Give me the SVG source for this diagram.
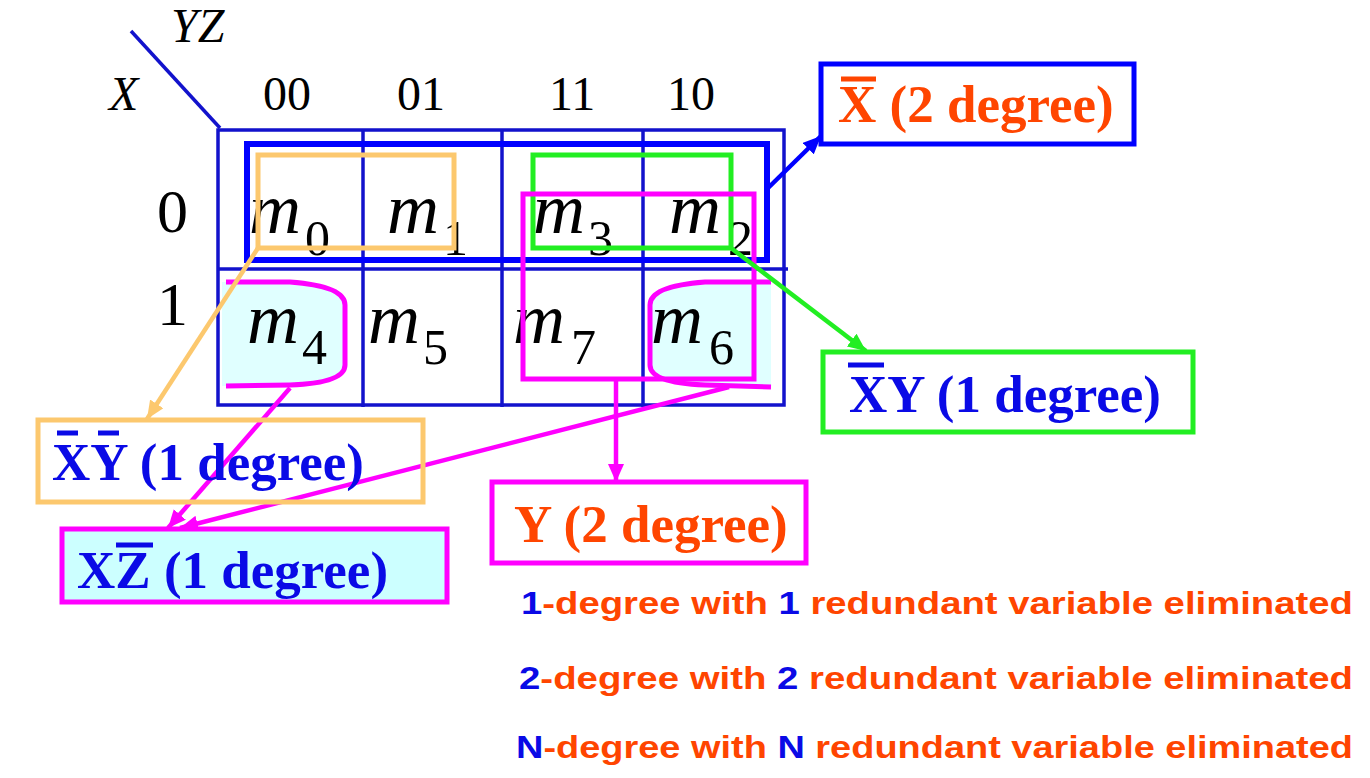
<svg xmlns="http://www.w3.org/2000/svg" width="1370" height="778" viewBox="0 0 1370 778">
<style>
.ser{font-family:"Liberation Serif","Times New Roman",serif}
.it{font-style:italic}
.m{font-family:"Liberation Serif","Times New Roman",serif;font-style:italic;font-size:72px;fill:#000}
.sub{font-family:"Liberation Serif","Times New Roman",serif;font-size:50px;fill:#000}
.hdr{font-family:"Liberation Serif","Times New Roman",serif;font-size:48px;fill:#000}
.lbl{font-family:"Liberation Serif","Times New Roman",serif;font-weight:bold;font-size:53px}
.blue{fill:#0a0ae6}
.org{fill:#ff4500}
.bar{stroke-width:5}
.grid{fill:none;stroke:#1212cc;stroke-width:3.5}
.foot{font-family:"Liberation Sans",Arial,sans-serif;font-weight:bold;font-size:32px}
.conn{fill:none;stroke-width:4.5}
</style>
<defs>
<marker id="ab" markerUnits="userSpaceOnUse" markerWidth="20" markerHeight="16" refX="18" refY="8" orient="auto"><path d="M0,0 L18,8 L0,16 z" fill="#0000ff"/></marker>
<marker id="ag" markerUnits="userSpaceOnUse" markerWidth="20" markerHeight="16" refX="18" refY="8" orient="auto"><path d="M0,0 L18,8 L0,16 z" fill="#22ee22"/></marker>
<marker id="ao" markerUnits="userSpaceOnUse" markerWidth="20" markerHeight="16" refX="18" refY="8" orient="auto"><path d="M0,0 L18,8 L0,16 z" fill="#fcc86e"/></marker>
<marker id="am" markerUnits="userSpaceOnUse" markerWidth="20" markerHeight="16" refX="18" refY="8" orient="auto"><path d="M0,0 L18,8 L0,16 z" fill="#ff00ff"/></marker>
</defs>
<rect width="1370" height="778" fill="#ffffff"/>

<g id="kmap">
<line x1="131" y1="31" x2="220" y2="128" stroke="#1212cc" stroke-width="3.5"/>
<text class="hdr it" x="171" y="42">YZ</text>
<text class="hdr it" x="109" y="110">X</text>
<text class="hdr" x="263" y="110">00</text>
<text class="hdr" x="397" y="110">01</text>
<text class="hdr" x="549" y="110">11</text>
<text class="hdr" x="667" y="110">10</text>
<text class="ser" x="157" y="232" font-size="62">0</text>
<text class="ser" x="157" y="325" font-size="62">1</text>
<path d="M222,282 L290,282 Q345,286 345,305 L345,365 Q345,383 290,385 L222,386 Z" fill="#e0ffff"/>
<path d="M771,282 L705,282 Q650,286 650,305 L650,365 Q650,383 705,385 L771,387 Z" fill="#e0ffff"/>
<text class="m" x="249" y="233">m</text><text class="sub" x="305" y="255">0</text>
<text class="m" x="387" y="233">m</text><text class="sub" x="443" y="255">1</text>
<text class="m" x="533" y="233">m</text><text class="sub" x="588" y="255">3</text>
<text class="m" x="669" y="233">m</text><text class="sub" x="728" y="255">2</text>
<text class="m" x="247" y="343">m</text><text class="sub" x="302" y="364">4</text>
<text class="m" x="368" y="343">m</text><text class="sub" x="423" y="364">5</text>
<text class="m" x="513" y="343">m</text><text class="sub" x="571" y="364">7</text>
<text class="m" x="651" y="343">m</text><text class="sub" x="709" y="364">6</text>
<rect class="grid" x="218" y="130" width="566" height="275"/>
<line class="grid" x1="218" y1="269" x2="788" y2="269"/>
<line class="grid" x1="363" y1="130" x2="363" y2="407"/>
<line class="grid" x1="502" y1="130" x2="502" y2="407"/>
<line class="grid" x1="643" y1="130" x2="643" y2="407"/>
</g>

<g id="group-xbar">
<rect x="247" y="144" width="520" height="116" fill="none" stroke="#0000ff" stroke-width="6"/>
</g>
<g id="group-m0m1">
<rect x="258" y="155" width="196" height="93" fill="none" stroke="#fcc86e" stroke-width="5"/>
</g>
<g id="group-m3m2">
<rect x="533" y="155" width="198" height="93" fill="none" stroke="#22ee22" stroke-width="5"/>
</g>
<g id="group-y">
<rect x="523" y="194" width="231" height="185" fill="none" stroke="#ff00ff" stroke-width="5"/>
</g>
<g id="group-m4">
<path d="M226,282 L290,282 Q345,286 345,305 L345,365 Q345,383 290,385 L226,386" fill="none" stroke="#ff00ff" stroke-width="5"/>
</g>
<g id="group-m6">
<path d="M771,282 L705,282 Q650,286 650,305 L650,365 Q650,383 705,385 L771,387" fill="none" stroke="#ff00ff" stroke-width="5"/>
</g>

<g id="connectors">
<line class="conn" x1="766" y1="190" x2="821" y2="136" stroke="#0000ff" marker-end="url(#ab)"/>
<line class="conn" x1="731" y1="248" x2="866" y2="351" stroke="#22ee22" marker-end="url(#ag)"/>
<line class="conn" x1="258" y1="248" x2="147" y2="419" stroke="#fcc86e" marker-end="url(#ao)"/>
<line class="conn" x1="290" y1="388" x2="168" y2="528" stroke="#ff00ff" marker-end="url(#am)"/>
<line class="conn" x1="729" y1="387" x2="180" y2="528" stroke="#ff00ff" marker-end="url(#am)"/>
<line class="conn" x1="616" y1="379" x2="616" y2="482" stroke="#ff00ff" marker-end="url(#am)"/>
</g>

<g id="box-xbar">
<rect x="821" y="64" width="313" height="80" fill="#ffffff" stroke="#0000ff" stroke-width="5"/>
<line class="bar" x1="841" y1="79" x2="876" y2="79" stroke="#ff4500"/>
<text class="lbl org" x="838" y="122">X (2 degree)</text>
</g>
<g id="box-xbary">
<rect x="823" y="352" width="370" height="80" fill="#ffffff" stroke="#22ee22" stroke-width="5"/>
<line class="bar" x1="848" y1="365" x2="884" y2="365" stroke="#0a0ae6"/>
<text class="lbl blue" x="849" y="412">XY (1 degree)</text>
</g>
<g id="box-xbarybar">
<rect x="38" y="420" width="385" height="82" fill="none" stroke="#fcc86e" stroke-width="5"/>
<line class="bar" x1="57" y1="433" x2="78" y2="433" stroke="#0a0ae6"/>
<line class="bar" x1="98" y1="433" x2="119" y2="433" stroke="#0a0ae6"/>
<text class="lbl blue" x="52" y="480">XY (1 degree)</text>
</g>
<g id="box-xzbar">
<rect x="62" y="529" width="385" height="73" fill="#ccffff" stroke="#ff00ff" stroke-width="5"/>
<line class="bar" x1="116" y1="545" x2="153" y2="545" stroke="#0a0ae6"/>
<text class="lbl blue" x="77" y="588">XZ (1 degree)</text>
</g>
<g id="box-y">
<rect x="492" y="482" width="314" height="81" fill="#ffffff" stroke="#ff00ff" stroke-width="5"/>
<text class="lbl org" x="514" y="542">Y (2 degree)</text>
</g>

<g id="notes">
<text class="foot" x="521" y="614" textLength="832" lengthAdjust="spacingAndGlyphs"><tspan class="blue">1</tspan><tspan class="org">-degree with </tspan><tspan class="blue">1</tspan><tspan class="org"> redundant variable eliminated</tspan></text>
<text class="foot" x="519" y="689" textLength="834" lengthAdjust="spacingAndGlyphs"><tspan class="blue">2</tspan><tspan class="org">-degree with </tspan><tspan class="blue">2</tspan><tspan class="org"> redundant variable eliminated</tspan></text>
<text class="foot" x="516" y="758" textLength="837" lengthAdjust="spacingAndGlyphs"><tspan class="blue">N</tspan><tspan class="org">-degree with </tspan><tspan class="blue">N</tspan><tspan class="org"> redundant variable eliminated</tspan></text>
</g>
</svg>
